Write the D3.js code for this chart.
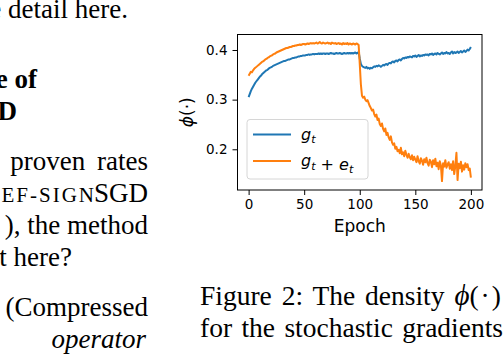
<!DOCTYPE html>
<html>
<head>
<meta charset="utf-8">
<script src="https://cdn.jsdelivr.net/npm/d3@7"></script>
<style>
  body { margin: 0; background: #fff; }
  svg { display: block; }
</style>
</head>
<body>
<script>
// epochs 0..200
const epochs = d3.range(0, 201);

const gt = [
  0.305, 0.311, 0.317, 0.322, 0.326, 0.330, 0.334, 0.337, 0.340, 0.343,
  0.346, 0.348, 0.351, 0.353, 0.355, 0.357, 0.359, 0.360, 0.362, 0.364,
  0.365, 0.366, 0.368, 0.369, 0.370, 0.371, 0.372, 0.373, 0.374, 0.375,
  0.376, 0.377, 0.378, 0.378, 0.379, 0.380, 0.381, 0.381, 0.382, 0.383,
  0.384, 0.384, 0.385, 0.385, 0.386, 0.387, 0.387, 0.388, 0.388, 0.389,
  0.389, 0.389, 0.390, 0.390, 0.391, 0.390, 0.391, 0.391, 0.392, 0.391,
  0.392, 0.392, 0.392, 0.393, 0.392, 0.393, 0.392, 0.393, 0.393, 0.392,
  0.393, 0.393, 0.392, 0.393, 0.394, 0.393, 0.393, 0.392, 0.393, 0.394,
  0.393, 0.393, 0.394, 0.393, 0.392, 0.393, 0.394, 0.393, 0.393, 0.394,
  0.393, 0.394, 0.393, 0.394, 0.393, 0.394, 0.395, 0.393, 0.394, 0.396,
  0.383, 0.372, 0.368, 0.366, 0.365, 0.364, 0.366, 0.363, 0.364, 0.362,
  0.364, 0.363, 0.365, 0.367, 0.366, 0.368, 0.367, 0.369, 0.368, 0.366,
  0.368, 0.370, 0.369, 0.371, 0.372, 0.370, 0.373, 0.374, 0.373, 0.376,
  0.377, 0.375, 0.378, 0.379, 0.377, 0.380, 0.381, 0.379, 0.382, 0.384,
  0.383, 0.385, 0.384, 0.386, 0.385, 0.387, 0.386, 0.385, 0.388, 0.387,
  0.389, 0.386, 0.388, 0.390, 0.387, 0.389, 0.388, 0.390, 0.389, 0.391,
  0.390, 0.391, 0.389, 0.392, 0.391, 0.393, 0.390, 0.392, 0.393, 0.391,
  0.394, 0.392, 0.391, 0.393, 0.395, 0.392, 0.394, 0.393, 0.396, 0.393,
  0.394, 0.392, 0.395, 0.397, 0.393, 0.396, 0.394, 0.395, 0.397, 0.394,
  0.396, 0.398, 0.395, 0.397, 0.399, 0.396, 0.398, 0.401, 0.399, 0.402,
  0.406
];

const gtPlusEt = [
  0.348, 0.352, 0.356, 0.355, 0.359, 0.362, 0.364, 0.366, 0.368, 0.370,
  0.372, 0.374, 0.376, 0.377, 0.379, 0.381, 0.382, 0.384, 0.385, 0.387,
  0.388, 0.389, 0.391, 0.392, 0.393, 0.395, 0.396, 0.397, 0.398, 0.399,
  0.400, 0.401, 0.402, 0.403, 0.404, 0.404, 0.405, 0.406, 0.406, 0.407,
  0.408, 0.408, 0.409, 0.409, 0.410, 0.410, 0.411, 0.410, 0.411, 0.412,
  0.412, 0.411, 0.412, 0.413, 0.412, 0.413, 0.414, 0.413, 0.414, 0.413,
  0.414, 0.415, 0.413, 0.414, 0.416, 0.414, 0.413, 0.415, 0.414, 0.413,
  0.414, 0.415, 0.413, 0.414, 0.412, 0.415, 0.414, 0.413, 0.414, 0.412,
  0.413, 0.414, 0.412, 0.413, 0.411, 0.414, 0.412, 0.413, 0.412, 0.414,
  0.411, 0.413, 0.412, 0.411, 0.413, 0.412, 0.411, 0.413, 0.412, 0.410,
  0.372, 0.331, 0.308, 0.304, 0.306, 0.300, 0.297, 0.299, 0.293, 0.287,
  0.283, 0.278, 0.280, 0.271, 0.266, 0.270, 0.259, 0.262, 0.251, 0.247,
  0.252, 0.241, 0.236, 0.242, 0.229, 0.233, 0.224, 0.219, 0.226, 0.214,
  0.209, 0.212, 0.201, 0.205, 0.196, 0.199, 0.192, 0.203, 0.190, 0.194,
  0.186, 0.197, 0.189, 0.183, 0.191, 0.184, 0.180, 0.188, 0.178, 0.185,
  0.179, 0.174, 0.186, 0.176, 0.171, 0.182, 0.177, 0.169, 0.180, 0.174,
  0.183, 0.172, 0.167, 0.179, 0.175, 0.164, 0.178, 0.170, 0.181, 0.166,
  0.173, 0.160, 0.176, 0.168, 0.136, 0.172, 0.165, 0.178, 0.163, 0.169,
  0.174, 0.161, 0.170, 0.158, 0.176, 0.150, 0.166, 0.193, 0.138, 0.171,
  0.162, 0.175, 0.155, 0.168, 0.159, 0.172, 0.164, 0.170, 0.158, 0.161,
  0.143
];

const xTicks = [0, 50, 100, 150, 200];
const yTicks = [0.2, 0.3, 0.4];
const seriesNames = ["g_t", "g_t+e_t"];
const seriesColors = ["#1f77b4", "#ff7f0e"];

// surrounding page text
const leftLines = [
  {text: "e detail here.", y: 18, x: 128},
  {text: "e of", y: 88, x: 37, bold: true},
  {text: "D", y: 120, x: 17, bold: true},
  {text: "proven rates", y: 170, x: 148, ws: 5},
  {text: null, y: 202, x: 148},
  {text: "), the method", y: 234, x: 148},
  {text: "t here?", y: 266, x: 72},
  {text: "(Compressed", y: 316, x: 148},
  {text: "operator", y: 348, x: 146, italic: true}
];
const captionLines = ["Figure 2: The density", "for the stochastic gradients"];

const W = 504, H = 356;
const svg = d3.select("body").append("svg")
  .attr("width", W)
  .attr("height", H)
  .attr("viewBox", `0 0 ${W} ${H}`);

svg.append("rect").attr("width", W).attr("height", H).attr("fill", "#fff");

const serif = "'Liberation Serif', 'Times New Roman', serif";
const sans = "'DejaVu Sans', sans-serif";

// left column
leftLines.forEach(l => {
  const t = svg.append("text")
    .attr("x", l.x)
    .attr("y", l.y)
    .attr("text-anchor", "end")
    .style("font-family", serif)
    .style("font-size", "27px")
    .style("word-spacing", (l.ws || 0) + "px")
    .style("font-weight", l.bold ? "bold" : "normal")
    .style("font-style", l.italic ? "italic" : "normal");
  if (l.text) {
    t.text(l.text);
  } else {
    // small caps "ef-sign" followed by regular "SGD"
    t.append("tspan").style("font-size", "21px").style("letter-spacing", "2px").text("EF-SIG");
    t.append("tspan").style("font-size", "21px").text("N");
    t.append("tspan").text("SGD");
  }
});

// caption
const cap1 = svg.append("text")
  .attr("x", 200).attr("y", 305)
  .style("font-family", serif).style("font-size", "27.5px")
  .style("word-spacing", "3px");
cap1.append("tspan").text(captionLines[0] + " ");
cap1.append("tspan").style("font-style", "italic").style("font-size", "29px").text("ϕ");
cap1.append("tspan").style("letter-spacing", "2px").text("(·)");

svg.append("text")
  .attr("x", 200).attr("y", 337)
  .style("font-family", serif).style("font-size", "27.5px")
  .style("word-spacing", "2.5px")
  .text(captionLines[1]);

// plot area
const pLeft = 237.5, pRight = 482, pTop = 34.5, pBottom = 190;
const x = d3.scaleLinear().domain([-10, 210]).range([pLeft, pRight]);
const y = d3.scaleLinear().domain([0.118, 0.4312]).range([pBottom, pTop]);

const line = d3.line()
  .x((d, i) => x(epochs[i]))
  .y(d => y(d));

svg.append("clipPath").attr("id", "plotclip")
  .append("rect").attr("x", pLeft).attr("y", pTop)
  .attr("width", pRight - pLeft).attr("height", pBottom - pTop);

[gt, gtPlusEt].forEach((s, k) => {
  svg.append("path")
    .datum(s)
    .attr("d", line)
    .attr("fill", "none")
    .attr("stroke", seriesColors[k])
    .attr("stroke-width", 2)
    .attr("stroke-linejoin", "round")
    .attr("clip-path", "url(#plotclip)");
});

// axes
const xAxis = svg.append("g")
  .attr("transform", `translate(0,${pBottom})`)
  .call(d3.axisBottom(x).tickValues(xTicks).tickSize(5).tickPadding(4).tickFormat(d3.format("d")));
const yAxis = svg.append("g")
  .attr("transform", `translate(${pLeft},0)`)
  .call(d3.axisLeft(y).tickValues(yTicks).tickSize(5).tickPadding(5).tickFormat(d3.format(".1f")));

[xAxis, yAxis].forEach(a => {
  a.select(".domain").remove();
  a.selectAll("line").attr("stroke", "#000").attr("stroke-width", 1);
  a.selectAll("text")
    .style("font-family", sans)
    .style("font-size", "13.5px")
    .attr("fill", "#000");
});

svg.append("rect")
  .attr("x", pLeft).attr("y", pTop)
  .attr("width", pRight - pLeft).attr("height", pBottom - pTop)
  .attr("fill", "none")
  .attr("stroke", "#000")
  .attr("stroke-width", 1);

// axis labels
svg.append("text")
  .attr("x", (pLeft + pRight) / 2)
  .attr("y", 232)
  .attr("text-anchor", "middle")
  .style("font-family", sans)
  .style("font-size", "17px")
  .text("Epoch");

const yl = svg.append("text")
  .attr("transform", `translate(193,${(pTop + pBottom) / 2}) rotate(-90)`)
  .attr("text-anchor", "middle")
  .style("font-family", sans)
  .style("font-size", "17px");
yl.append("tspan").style("font-style", "italic").text("ϕ");
yl.append("tspan").text("(·)");

// legend
const legend = svg.append("g");
legend.append("rect")
  .attr("x", 247).attr("y", 119.5)
  .attr("width", 121).attr("height", 59.5)
  .attr("rx", 3)
  .attr("fill", "#fff").attr("fill-opacity", 0.8)
  .attr("stroke", "#d6d6d6").attr("stroke-width", 1);

seriesNames.forEach((name, k) => {
  const ly = 134.5 + k * 26.5;
  legend.append("line")
    .attr("x1", 253).attr("x2", 291)
    .attr("y1", ly).attr("y2", ly)
    .attr("stroke", seriesColors[k])
    .attr("stroke-width", 2);
  const t = legend.append("text")
    .attr("x", 301).attr("y", ly + 5)
    .style("font-family", sans)
    .style("font-size", "16px")
    .style("font-style", "italic");
  name.split("+").forEach((part, j) => {
    if (j > 0) t.append("tspan").style("font-style", "normal").text(" + ");
    const [base, sub] = part.split("_");
    t.append("tspan").text(base);
    t.append("tspan").attr("dy", 3.5).style("font-size", "11px").text(sub);
    t.append("tspan").attr("dy", -3.5).text("");
  });
});
</script>
</body>
</html>
